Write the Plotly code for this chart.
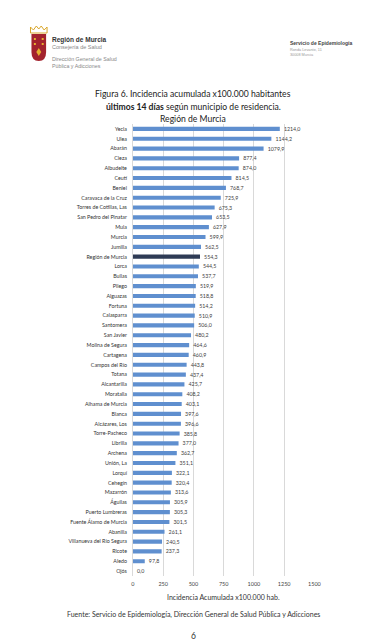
import plotly.graph_objects as go

municipios = [
    "Yecla", "Ulea", "Abarán", "Cieza", "Albudeite", "Ceutí", "Beniel",
    "Caravaca de la Cruz", "Torres de Cotillas, Las", "San Pedro del Pinatar",
    "Mula", "Murcia", "Jumilla", "Región de Murcia", "Lorca", "Bullas", "Pliego",
    "Alguazas", "Fortuna", "Calasparra", "Santomera", "San Javier",
    "Molina de Segura", "Cartagena", "Campos del Río", "Totana", "Alcantarilla",
    "Moratalla", "Alhama de Murcia", "Blanca", "Alcázares, Los", "Torre-Pacheco",
    "Librilla", "Archena", "Unión, La", "Lorquí", "Cehegín", "Mazarrón",
    "Águilas", "Puerto Lumbreras", "Fuente Álamo de Murcia", "Abanilla",
    "Villanueva del Río Segura", "Ricote", "Aledo", "Ojós",
]
incidencia = [
    1214.0, 1144.2, 1079.9, 877.4, 874.0, 814.5, 768.7, 725.9, 675.3, 653.5,
    627.9, 599.9, 562.5, 554.3, 544.5, 537.7, 519.9, 518.8, 514.2, 510.9,
    506.0, 480.2, 464.6, 460.9, 443.8, 437.4, 425.7, 408.2, 403.1, 397.6,
    396.6, 385.8, 377.0, 362.7, 351.1, 322.1, 320.4, 313.6, 305.9, 305.3,
    301.5, 261.1, 240.5, 237.3, 97.8, 0.0,
]
x_ticks = [0, 250, 500, 750, 1000, 1250, 1500]

W, H = 370, 640
def px(x):
    return x / W
def py(y):
    return 1 - y / H

colors = ["#2E3B55" if m == "Región de Murcia" else "#5F8FCF" for m in municipios]

fig = go.Figure(go.Bar(
    x=incidencia, y=municipios, orientation="h",
    marker=dict(color=colors, line=dict(width=0)),
    width=0.42,
    text=incidencia, texttemplate="\u00a0\u00a0\u00a0%{x:.1f}", textposition="outside",
    constraintext="none",
    textfont=dict(size=5.3, color="#404040", family="Lato"),
    cliponaxis=False, hoverinfo="x+y",
))

FONT = "Lato"
ann = []
def t(x, y, s, size, color="#333", anchor="center", family=FONT):
    ann.append(dict(x=px(x), y=py(y), xref="paper", yref="paper", text=s,
                    showarrow=False, xanchor=anchor, yanchor="middle", borderpad=0,
                    font=dict(size=size, color=color, family=family)))

# header
t(42, 32, "<b>Región de Murcia</b>", 6.5, "#333", "left", "Liberation Sans")
t(42, 38.5, "Consejería de Salud", 5.5, "#888", "left", "Liberation Sans")
t(42, 51, "Dirección General de Salud", 5.3, "#888", "left", "Liberation Sans")
t(42, 58, "Pública y Adicciones", 5.3, "#888", "left", "Liberation Sans")
t(286, 35, "<b>Servicio de Epidemiología</b>", 5, "#444", "left", "Liberation Sans")
t(286, 42, "Ronda Levante, 11", 3.8, "#999", "left", "Liberation Sans")
t(286, 47, "30008 Murcia", 3.8, "#999", "left", "Liberation Sans")
# title
t(188, 86, "Figura 6. Incidencia acumulada x100.000 habitantes", 8.6, "#222")
t(188, 99, "<b>últimos 14 días</b> según municipio de residencia.", 8.6, "#222")
t(188, 111, "Región de Murcia", 8.6, "#222")
# axis title, source, page
t(219, 589, "Incidencia Acumulada x100.000 hab.", 7, "#333")
t(188, 606, "Fuente: Servicio de Epidemiología, Dirección General de Salud Pública y Adicciones", 7, "#333")
t(188, 628, "6", 8.5, "#333")

shapes = []
# logo shield
shield = (f"M {px(22)} {py(26)} L {px(37)} {py(26)} L {px(37)} {py(44)} "
          f"Q {px(37)} {py(53)} {px(29.5)} {py(53)} Q {px(22)} {py(53)} {px(22)} {py(44)} Z")
shapes.append(dict(type="path", path=shield, xref="paper", yref="paper",
                   fillcolor="#A3232E", line=dict(width=0)))
# crown
crown = (f"M {px(21)} {py(25)} L {px(21)} {py(19)} L {px(24)} {py(22)} L {px(27)} {py(18)} "
         f"L {px(29.5)} {py(21)} L {px(32)} {py(18)} L {px(35)} {py(22)} L {px(38)} {py(19)} "
         f"L {px(38)} {py(25)} Z")
shapes.append(dict(type="path", path=crown, xref="paper", yref="paper",
                   fillcolor="rgba(0,0,0,0)", line=dict(color="#D9A62A", width=1)))
for (cx, cy) in [(25.5, 31), (33.5, 31), (25.5, 36), (33.5, 36)]:
    shapes.append(dict(type="rect", xref="paper", yref="paper",
                       x0=px(cx - 1), x1=px(cx + 1), y0=py(cy + 1), y1=py(cy - 1),
                       fillcolor="#E6B030", line=dict(width=0)))
shapes.append(dict(type="path", xref="paper", yref="paper",
                   path=f"M {px(29.5)} {py(40)} L {px(32)} {py(44)} L {px(29.5)} {py(48)} L {px(27)} {py(44)} Z",
                   fillcolor="#E6B030", line=dict(width=0)))
# scrollbar artifact
shapes.append(dict(type="rect", xref="paper", yref="paper",
                   x0=px(365), x1=px(367), y0=py(447), y1=py(367),
                   fillcolor="#8a8a8a", line=dict(width=0)))

fig.update_layout(
    width=W, height=H, margin=dict(l=0, r=0, t=0, b=0),
    paper_bgcolor="white", plot_bgcolor="white",
    separators=",.", showlegend=False,
    annotations=ann, shapes=shapes,
    font=dict(family=FONT, color="#333"),
    xaxis=dict(domain=[px(126), px(312)], range=[0, 1500], tickvals=x_ticks,
               ticktext=[str(v) for v in x_ticks],
               showgrid=True, gridcolor="#D9D9D9", gridwidth=1, zeroline=True,
               zerolinecolor="#D9D9D9", zerolinewidth=1, showline=False,
               tickfont=dict(size=5.5, color="#444"), ticks="", ticklabelstandoff=3),
    yaxis=dict(domain=[py(568), py(116)], autorange="reversed", type="category",
               showgrid=False, zeroline=False, showline=False, ticks="",
               tickfont=dict(size=5.3, color="#333"), ticklabelstandoff=5),
    bargap=0.55,
)

fig.write_html("out.html")
